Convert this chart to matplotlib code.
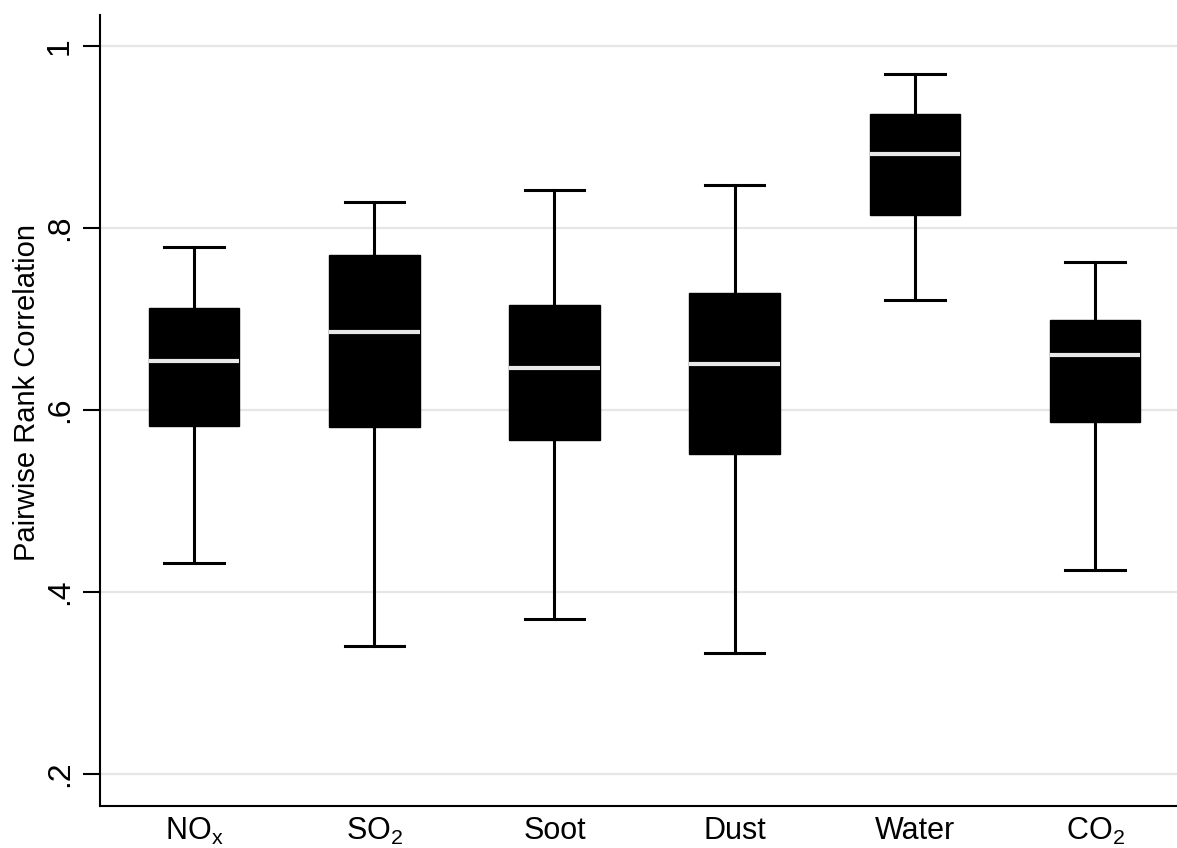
import matplotlib
matplotlib.use("Agg")
from matplotlib import pyplot as plt

plt.rcParams['font.family'] = ['Liberation Sans', 'DejaVu Sans']
plt.rcParams['mathtext.fontset'] = 'custom'
plt.rcParams['mathtext.rm'] = 'Liberation Sans'
plt.rcParams['mathtext.it'] = 'Liberation Sans'

# box statistics
labels = [r'NO$_\mathregular{x}$', r'SO$_\mathregular{2}$', 'Soot', 'Dust',
          'Water', r'CO$_\mathregular{2}$']
whislo = [0.432, 0.341, 0.370, 0.333, 0.721, 0.424]
q1     = [0.583, 0.582, 0.567, 0.552, 0.815, 0.587]
med    = [0.654, 0.686, 0.646, 0.651, 0.881, 0.661]
q3     = [0.712, 0.770, 0.716, 0.729, 0.926, 0.699]
whishi = [0.779, 0.829, 0.842, 0.847, 0.969, 0.763]

yticks = [0.2, 0.4, 0.6, 0.8, 1.0]
yticklabels = ['.2', '.4', '.6', '.8', '1']

stats = []
for i in range(len(labels)):
    stats.append(dict(label=labels[i], whislo=whislo[i], q1=q1[i], med=med[i],
                      q3=q3[i], whishi=whishi[i], fliers=[]))

fig = plt.figure(figsize=(11.77, 8.48), dpi=100)
ax = fig.add_axes([0.085, 0.0495, 0.915, 0.9325])

for y in yticks:
    ax.axhline(y, color='#e6e6e6', lw=1.6, zorder=0)

ax.bxp(stats, positions=range(1, 7), widths=0.503, patch_artist=True,
       showfliers=False, capwidths=0.33,
       boxprops=dict(facecolor='black', edgecolor='black', lw=1),
       medianprops=dict(color='#e8e8e8', lw=3, solid_capstyle='butt'),
       whiskerprops=dict(color='black', lw=2.2),
       capprops=dict(color='black', lw=2.2))

ax.set_xlim(0.478, 6.455)
ax.set_ylim(0.165, 1.034)
ax.set_yticks(yticks)
ax.set_yticklabels(yticklabels, rotation=90, va='center', fontsize=23)
ax.set_ylabel('Pairwise Rank Correlation', fontsize=21)
ax.yaxis.set_label_coords(-0.055, 0.523)
ax.tick_params(axis='y', length=12, width=1.5, pad=6)
ax.tick_params(axis='x', length=0, labelsize=22, pad=7)

ax.spines['top'].set_visible(False)
ax.spines['right'].set_visible(False)
ax.spines['left'].set_linewidth(1.5)
ax.spines['bottom'].set_linewidth(1.5)

fig.savefig('out.png', dpi=100)
